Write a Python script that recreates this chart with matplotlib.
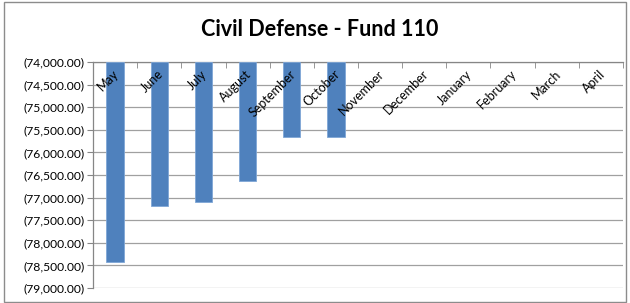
import matplotlib
matplotlib.use("Agg")
import matplotlib.pyplot as plt
from matplotlib.patches import Rectangle
from matplotlib.ticker import FuncFormatter, FixedLocator, MultipleLocator
import matplotlib.transforms as mtransforms

months = ["May", "June", "July", "August", "September", "October",
          "November", "December", "January", "February", "March", "April"]
values = [-78420, -77180, -77100, -76640, -75670, -75670]
title = "Civil Defense - Fund 110"
y_min, y_max, y_step = -79000, -74000, 500

plt.rcParams['font.family'] = ['Lato', 'DejaVu Sans']

fig = plt.figure(figsize=(6.3, 3.03), dpi=100)
ax = fig.add_axes([93/630, 1-288/303, (623-93)/630, (288-62)/303])

x = list(range(len(values)))
ax.bar(x, [v - y_max for v in values], bottom=y_max, width=0.39,
       color="#4F81BD", edgecolor="#7FA6D6", linewidth=0.6, zorder=3)

ax.set_xlim(-0.5, len(months) - 0.5)
ax.set_ylim(y_min, y_max)
ax.yaxis.set_major_locator(MultipleLocator(y_step))
ax.yaxis.set_major_formatter(FuncFormatter(
    lambda v, p: f"({abs(v):,.2f})" if v < 0 else f"{v:,.2f}"))
ax.grid(axis='y', color="#A0A0A0", linewidth=0.9, zorder=0)
ax.tick_params(axis='y', length=4, color="#868686", labelsize=8.7,
               labelcolor="#000000", pad=2)

ax.xaxis.set_major_locator(FixedLocator([]))
ax.xaxis.set_minor_locator(FixedLocator([i - 0.5 for i in range(len(months) + 1)]))
ax.tick_params(axis='x', which='minor', direction='in', top=True, bottom=False,
               length=4, color="#868686")
for s in ['right', 'bottom']:
    ax.spines[s].set_visible(False)
for s in ['left', 'top']:
    ax.spines[s].set_color("#868686")
    ax.spines[s].set_linewidth(0.9)

off = mtransforms.offset_copy(ax.transData, fig=fig, x=2, y=-10, units='dots')
for i, m in enumerate(months):
    ax.text(i, y_max, m, transform=off, rotation=45, rotation_mode='anchor',
            ha='right', va='center', fontsize=9, zorder=4)

fig.text(320/630, 1-30/303, title, ha='center', va='center',
         fontsize=15.5, fontweight='bold')

fig.patches.append(Rectangle((4/630, 1/303), 1-8/630, 1-3/303, transform=fig.transFigure,
                             fill=False, edgecolor="#8C8C8C", linewidth=1))

fig.savefig("out.png", dpi=100, facecolor="white")
